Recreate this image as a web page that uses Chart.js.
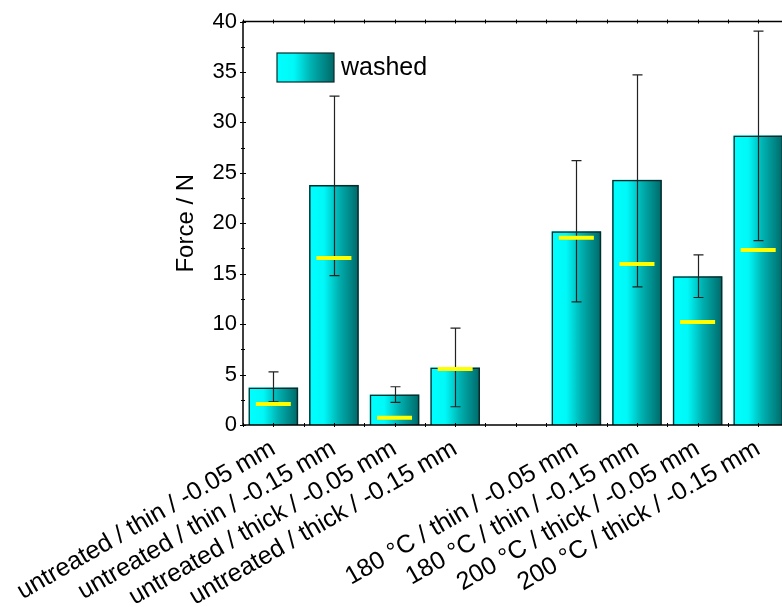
<!DOCTYPE html>
<html>
<head>
<meta charset="utf-8">
<script src="https://cdn.jsdelivr.net/npm/chart.js@4/dist/chart.umd.min.js"></script>
<style>
  html, body { margin: 0; padding: 0; background: #fff; overflow: hidden; }
  .wrap { width: 782px; height: 607px; overflow: hidden; position: relative; }
  canvas { display: block; }
</style>
</head>
<body>
<div class="wrap"><canvas id="c" width="810" height="607"></canvas></div>
<script>
const labels = [
  'untreated / thin / -0.05 mm',
  'untreated / thin / -0.15 mm',
  'untreated / thick / -0.05 mm',
  'untreated / thick / -0.15 mm',
  '',
  '180 °C / thin / -0.05 mm',
  '180 °C / thin / -0.15 mm',
  '200 °C / thick / -0.05 mm',
  '200 °C / thick / -0.15 mm'
];
const washed  = [3.72, 23.8, 3.03, 5.7, null, 19.2, 24.3, 14.75, 28.7];
const errHigh = [5.27, 32.6, 3.79, 9.6, null, 26.2, 34.7, 16.86, 39.05];
const errLow  = [2.3, 14.8, 2.24, 1.81, null, 12.2, 13.7, 12.64, 18.27];
const median  = [2.07, 16.56, 0.72, 5.56, null, 18.57, 15.97, 10.2, 17.35];
const yTicks  = [0, 5, 10, 15, 20, 25, 30, 35, 40];

const FONT = "'Liberation Sans', Arial, sans-serif";

function grad(ctx, x0, x1) {
  const g = ctx.createLinearGradient(x0, 0, x1, 0);
  g.addColorStop(0, '#00ffff');
  g.addColorStop(0.3, '#00f8f8');
  g.addColorStop(0.6, '#00b0b0');
  g.addColorStop(1, '#006868');
  return g;
}

// gradient fill under the library's bar outlines, then error bars
const barFill = {
  id: 'barFill',
  beforeDatasetDraw(chart, args) {
    if (args.index !== 0) return;
    const ctx = chart.ctx;
    ctx.save();
    args.meta.data.forEach((el, i) => {
      if (washed[i] == null) return;
      const x0 = el.x - el.width / 2, x1 = el.x + el.width / 2;
      ctx.fillStyle = grad(ctx, x0, x1);
      ctx.fillRect(x0, el.y, el.width, el.base - el.y);
    });
    ctx.restore();
  },
  afterDatasetDraw(chart, args) {
    if (args.index !== 0) return;
    const ctx = chart.ctx, y = chart.scales.y;
    ctx.save();
    ctx.strokeStyle = '#222';
    ctx.lineWidth = 1.2;
    args.meta.data.forEach((el, i) => {
      if (errHigh[i] == null) return;
      const hi = y.getPixelForValue(errHigh[i]), lo = y.getPixelForValue(errLow[i]);
      const x = Math.round(el.x) + 0.5;
      ctx.beginPath();
      ctx.moveTo(x, hi); ctx.lineTo(x, lo);
      ctx.moveTo(x - 5, hi); ctx.lineTo(x + 5, hi);
      ctx.moveTo(x - 5, lo); ctx.lineTo(x + 5, lo);
      ctx.stroke();
    });
    ctx.restore();
  }
};

// frame, minor ticks and legend
const frame = {
  id: 'frame',
  afterDraw(chart) {
    const ctx = chart.ctx, a = chart.chartArea, x = chart.scales.x, y = chart.scales.y;
    ctx.save();
    ctx.strokeStyle = '#000';
    ctx.lineWidth = 1.5;
    ctx.beginPath();
    ctx.moveTo(a.left, a.bottom); ctx.lineTo(a.left, a.top); ctx.lineTo(a.right, a.top);
    ctx.moveTo(a.left, a.bottom); ctx.lineTo(a.right, a.bottom);
    ctx.stroke();
    ctx.lineWidth = 1;
    ctx.beginPath();
    for (let v = 2.5; v < 40; v += 5) {
      const py = Math.round(y.getPixelForValue(v)) + 0.5;
      ctx.moveTo(a.left - 2, py); ctx.lineTo(a.left + 2, py);
    }
    yTicks.forEach(v => {
      const py = Math.round(y.getPixelForValue(v)) + 0.5;
      ctx.moveTo(a.left - 3, py); ctx.lineTo(a.left + 3, py);
    });
    const half = (x.getPixelForValue(1) - x.getPixelForValue(0)) / 2;
    for (let i = 0; i < labels.length; i++) {
      [x.getPixelForValue(i), x.getPixelForValue(i) - half].forEach(px => {
        px = Math.round(px) + 0.5;
        ctx.moveTo(px, a.bottom - 2); ctx.lineTo(px, a.bottom + 2);
        ctx.moveTo(px, a.top - 2); ctx.lineTo(px, a.top + 2);
      });
    }
    ctx.stroke();
    // legend
    const lx = 277, ly = 53, lw = 57, lh = 29;
    ctx.fillStyle = grad(ctx, lx, lx + lw);
    ctx.fillRect(lx, ly, lw, lh);
    ctx.strokeStyle = '#0b2b2b';
    ctx.lineWidth = 1.2;
    ctx.strokeRect(lx, ly, lw, lh);
    ctx.fillStyle = '#000';
    ctx.font = '25px ' + FONT;
    ctx.textBaseline = 'middle';
    ctx.fillText('washed', 341, ly + lh / 2 + 1);
    ctx.restore();
  }
};

new Chart(document.getElementById('c'), {
  data: {
    labels: labels,
    datasets: [
      {
        type: 'bar',
        label: 'washed',
        data: washed,
        backgroundColor: 'rgba(0,0,0,0)',
        borderColor: '#0b2b2b',
        borderWidth: 1.5,
        barPercentage: 0.82,
        categoryPercentage: 1,
        order: 2
      },
      {
        type: 'line',
        label: 'median',
        data: median,
        showLine: false,
        pointStyle: 'line',
        pointRadius: 17.5,
        pointHoverRadius: 17.5,
        pointBorderWidth: 4,
        pointBorderColor: '#ffff00',
        borderColor: '#ffff00',
        order: 1
      }
    ]
  },
  options: {
    responsive: false,
    animation: false,
    events: [],
    layout: { padding: { top: 20, right: 21, left: 172, bottom: 0 } },
    plugins: { legend: { display: false }, tooltip: { enabled: false } },
    scales: {
      x: {
        type: 'category',
        offset: true,
        grid: { display: false, drawTicks: false },
        border: { display: false },
        ticks: {
          color: '#000',
          font: { family: FONT, size: 25 },
          maxRotation: 30,
          minRotation: 30,
          autoSkip: false,
          padding: 9
        },
        afterFit(s) { s.height = 182; s.paddingLeft = 0; s.paddingRight = 0; }
      },
      y: {
        min: 0,
        max: 40,
        afterBuildTicks(s) { s.ticks = yTicks.map(v => ({ value: v })); },
        grid: { display: false, drawTicks: false },
        border: { display: false },
        ticks: {
          color: '#000',
          font: { family: FONT, size: 22 },
          padding: 6
        },
        title: {
          display: true,
          text: 'Force / N',
          color: '#000',
          font: { family: FONT, size: 24 },
          padding: 0
        },
        afterFit(s) { s.width = 71; s.paddingTop = 0; s.paddingBottom = 0; }
      }
    }
  },
  plugins: [barFill, frame]
});
</script>
</body>
</html>
